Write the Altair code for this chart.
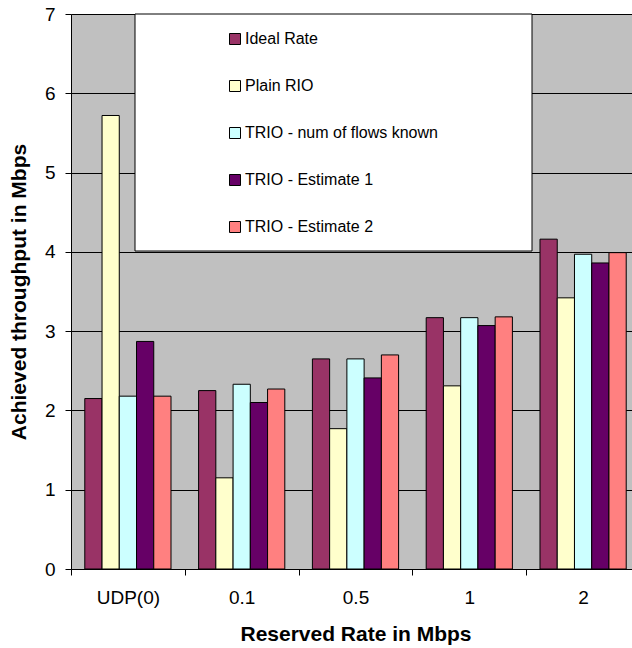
import altair as alt
import pandas as pd

# Reserved rate groups along the x axis
categories = ["UDP(0)", "0.1", "0.5", "1", "2"]

# Series (legend order) and their fill colours
series_names = [
    "Ideal Rate",
    "Plain RIO",
    "TRIO - num of flows known",
    "TRIO - Estimate 1",
    "TRIO - Estimate 2",
]
series_colors = ["#993366", "#FFFFCC", "#CCFFFF", "#660066", "#FF8080"]

# Achieved throughput (Mbps) per series, one value per reserved rate
ideal_rate = [2.15, 2.25, 2.65, 3.17, 4.16]
plain_rio = [5.72, 1.15, 1.77, 2.31, 3.42]
trio_flows_known = [2.18, 2.33, 2.65, 3.17, 3.97]
trio_estimate_1 = [2.87, 2.10, 2.41, 3.07, 3.86]
trio_estimate_2 = [2.18, 2.27, 2.70, 3.18, 3.99]

series_values = [ideal_rate, plain_rio, trio_flows_known, trio_estimate_1, trio_estimate_2]

rows = []
for name, values in zip(series_names, series_values):
    for cat, v in zip(categories, values):
        rows.append({"rate": cat, "series": name, "throughput": v})
df = pd.DataFrame(rows)

FONT = "Liberation Sans"

bars = alt.Chart(df).mark_bar(stroke="black", strokeWidth=1).encode(
    x=alt.X(
        "rate:N",
        sort=categories,
        scale=alt.Scale(paddingInner=0, paddingOuter=0, range=[0, 569]),
        axis=alt.Axis(
            title="Reserved Rate in Mbps",
            labelAngle=0,
            tickBand="extent",
            grid=False,
            labelPadding=13,
            titlePadding=16,
        ),
    ),
    xOffset=alt.XOffset(
        "series:N",
        sort=series_names,
        scale=alt.Scale(paddingOuter=0.8, paddingInner=0),
    ),
    y=alt.Y(
        "throughput:Q",
        scale=alt.Scale(domain=[0, 7], nice=False),
        axis=alt.Axis(
            title="Achieved throughput in Mbps",
            values=list(range(8)),
            grid=True,
            labelPadding=10,
            titlePadding=15,
        ),
    ),
    color=alt.Color(
        "series:N",
        sort=series_names,
        scale=alt.Scale(domain=series_names, range=series_colors),
        legend=alt.Legend(
            title=None,
            orient="none",
            legendX=156,
            legendY=17,
            padding=0,
            symbolType="square",
            symbolSize=121,
            symbolStrokeColor="black",
            symbolStrokeWidth=1,
            symbolOpacity=1,
            labelFont=FONT,
            labelFontSize=16,
            labelColor="black",
            labelOffset=2,
            labelLimit=400,
            rowPadding=31,
        ),
    ),
)

# White frame behind the legend entries
legend_frame = alt.Chart(pd.DataFrame({"frame": [0]})).mark_rect(
    fill="white", stroke="black", strokeWidth=1
).encode(
    x=alt.value(64),
    x2=alt.value(461),
    y=alt.value(0),
    y2=alt.value(237),
)

chart = (
    alt.layer(legend_frame, bars)
    .properties(
        width=561,
        height=555,
        autosize=alt.AutoSizeParams(type="none"),
        padding={"left": 71, "top": 14, "right": 0, "bottom": 79},
        background="white",
    )
    .configure_view(fill="#C0C0C0", stroke=None)
    .configure_axis(
        domainColor="black",
        domainWidth=1,
        tickColor="black",
        tickSize=6,
        gridColor="black",
        gridWidth=1,
        labelFont=FONT,
        labelFontSize=19,
        labelColor="black",
        titleFont=FONT,
        titleFontSize=21,
        titleFontWeight="bold",
        titleColor="black",
    )
)

chart.save("out.html", embed_options={"renderer": "svg", "actions": False})
